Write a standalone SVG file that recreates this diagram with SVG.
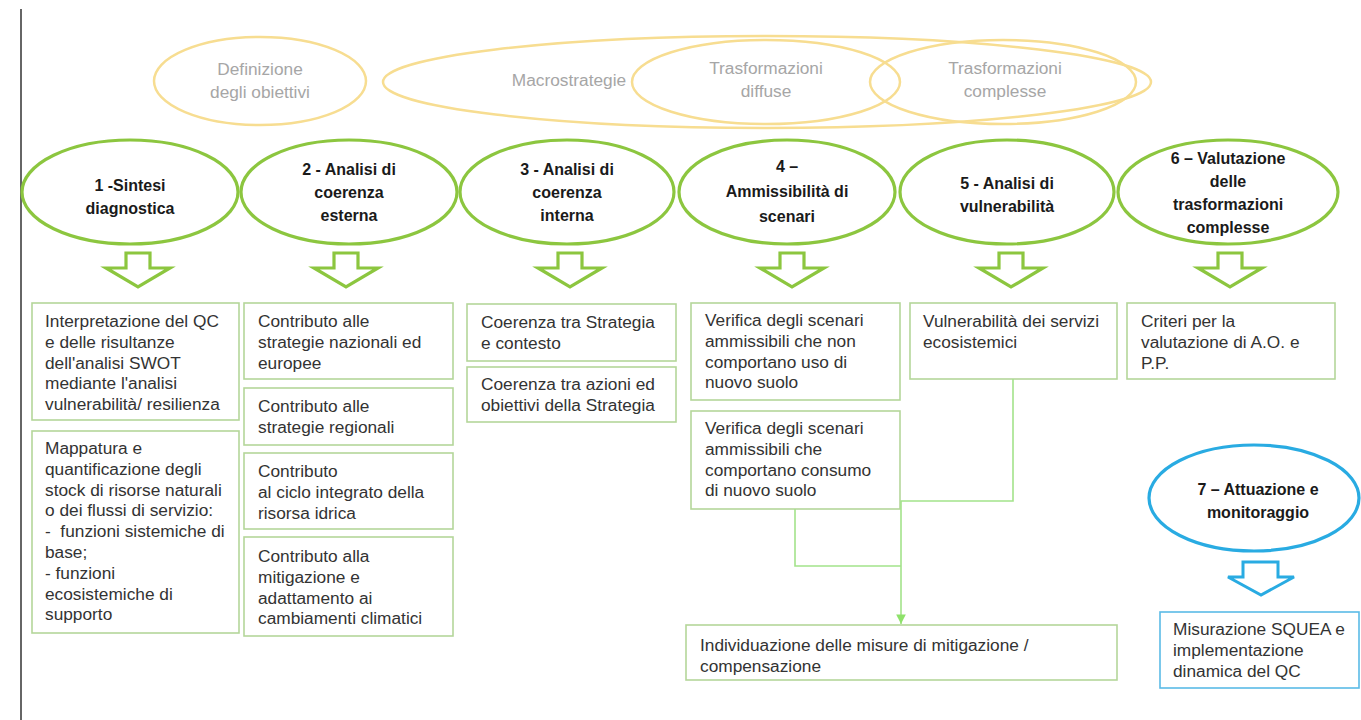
<svg xmlns="http://www.w3.org/2000/svg" xmlns:xlink="http://www.w3.org/1999/xlink" width="1361" height="720" viewBox="0 0 1361 720">
<style>
.bg{fill:#ffffff}
.yel{fill:none;stroke:#f7dd91;stroke-width:2.5}
.ytx{font-family:"Liberation Sans",Arial,sans-serif;font-size:17.3px;fill:#a6a6a6;text-anchor:middle}
.gel{fill:#ffffff;stroke:#8cc63f;stroke-width:3.2}
.etx{font-family:"Liberation Sans",Arial,sans-serif;font-size:16px;font-weight:bold;fill:#1a1a1a;text-anchor:middle}
.gar{fill:#ffffff;stroke:#8cc63f;stroke-width:3.2;stroke-linejoin:miter}
.bar{fill:#ffffff;stroke:#29abe2;stroke-width:3}
.box{fill:#ffffff;stroke:#b5d69a;stroke-width:1.6}
.bbox{fill:#ffffff;stroke:#5bbbe6;stroke-width:1.6}
.btx{font-family:"Liberation Sans",Arial,sans-serif;font-size:17.3px;fill:#333333}
.con{fill:none;stroke:#a3e38a;stroke-width:1.6}
.bel{fill:#ffffff;stroke:#29abe2;stroke-width:3.2}
</style>
<defs>
<path id="garrow" d="M-12 0 H12 V15 H32 L0 34 L-32 15 H-12 Z"/>
<marker id="ah" viewBox="0 0 10 10" refX="10" refY="5" markerWidth="6" markerHeight="6" orient="auto" markerUnits="strokeWidth">
<path d="M0 0 L10 5 L0 10 Z" fill="#8ee26a"/>
</marker>
</defs>
<rect class="bg" x="0" y="0" width="1361" height="720"/>
<line x1="21" y1="9" x2="21" y2="720" stroke="#666666" stroke-width="2"/>

<g id="top-ellipses">
<g id="definizione">
<ellipse class="yel" cx="260" cy="81" rx="106" ry="44"/>
<text class="ytx" x="260" y="75">Definizione</text>
<text class="ytx" x="260" y="98">degli obiettivi</text>
</g>
<g id="macrostrategie">
<ellipse class="yel" cx="767" cy="82" rx="384" ry="46"/>
<text class="ytx" x="569" y="86">Macrostrategie</text>
</g>
<g id="trasf-diffuse">
<ellipse class="yel" cx="766" cy="82" rx="134" ry="42"/>
<text class="ytx" x="766" y="74">Trasformazioni</text>
<text class="ytx" x="766" y="97">diffuse</text>
</g>
<g id="trasf-complesse">
<ellipse class="yel" cx="1003" cy="82" rx="133" ry="42"/>
<text class="ytx" x="1005" y="74">Trasformazioni</text>
<text class="ytx" x="1005" y="97">complesse</text>
</g>
</g>

<g id="phase1">
<ellipse class="gel" cx="130" cy="192" rx="108" ry="52"/>
<text class="etx" x="130" y="191">1 -Sintesi</text>
<text class="etx" x="130" y="214">diagnostica</text>
</g>
<g id="phase2">
<ellipse class="gel" cx="349" cy="192" rx="108" ry="52"/>
<text class="etx" x="349" y="175">2 - Analisi di</text>
<text class="etx" x="349" y="198">coerenza</text>
<text class="etx" x="349" y="221">esterna</text>
</g>
<g id="phase3">
<ellipse class="gel" cx="567" cy="192" rx="107" ry="52"/>
<text class="etx" x="567" y="175">3 - Analisi di</text>
<text class="etx" x="567" y="198">coerenza</text>
<text class="etx" x="567" y="221">interna</text>
</g>
<g id="phase4">
<ellipse class="gel" cx="787" cy="192" rx="108" ry="52"/>
<text class="etx" x="787" y="172">4 –</text>
<text class="etx" x="787" y="197">Ammissibilità di</text>
<text class="etx" x="787" y="222">scenari</text>
</g>
<g id="phase5">
<ellipse class="gel" cx="1007" cy="192" rx="107" ry="52"/>
<text class="etx" x="1007" y="189">5 - Analisi di</text>
<text class="etx" x="1007" y="212">vulnerabilità</text>
</g>
<g id="phase6">
<ellipse class="gel" cx="1228" cy="192" rx="110" ry="52"/>
<text class="etx" x="1228" y="164">6 – Valutazione</text>
<text class="etx" x="1228" y="187">delle</text>
<text class="etx" x="1228" y="210">trasformazioni</text>
<text class="etx" x="1228" y="233">complesse</text>
</g>

<g id="box-1a">
<rect class="box" x="32" y="303" width="207" height="117"/>
<text class="btx" x="45" y="327"><tspan x="45">Interpretazione del QC</tspan><tspan x="45" dy="20.8">e delle risultanze</tspan><tspan x="45" dy="20.8">dell'analisi SWOT</tspan><tspan x="45" dy="20.8">mediante l'analisi</tspan><tspan x="45" dy="20.8">vulnerabilità/ resilienza</tspan></text>
</g>
<g id="box-1b">
<rect class="box" x="32" y="431" width="207" height="202"/>
<text class="btx" x="45" y="454"><tspan x="45">Mappatura e</tspan><tspan x="45" dy="20.8">quantificazione degli</tspan><tspan x="45" dy="20.8">stock di risorse naturali</tspan><tspan x="45" dy="20.8">o dei flussi di servizio:</tspan><tspan x="45" dy="20.8">-&#160; funzioni sistemiche di</tspan><tspan x="45" dy="20.8">base;</tspan><tspan x="45" dy="20.8">- funzioni</tspan><tspan x="45" dy="20.8">ecosistemiche di</tspan><tspan x="45" dy="20.8">supporto</tspan></text>
</g>
<g id="box-2a">
<rect class="box" x="244" y="303" width="209" height="76"/>
<text class="btx" x="258" y="327"><tspan x="258">Contributo alle</tspan><tspan x="258" dy="20.8">strategie nazionali ed</tspan><tspan x="258" dy="20.8">europee</tspan></text>
</g>
<g id="box-2b">
<rect class="box" x="244" y="388" width="209" height="57"/>
<text class="btx" x="258" y="412"><tspan x="258">Contributo alle</tspan><tspan x="258" dy="20.8">strategie regionali</tspan></text>
</g>
<g id="box-2c">
<rect class="box" x="244" y="453" width="209" height="76"/>
<text class="btx" x="258" y="477"><tspan x="258">Contributo</tspan><tspan x="258" dy="20.8">al ciclo integrato della</tspan><tspan x="258" dy="20.8">risorsa idrica</tspan></text>
</g>
<g id="box-2d">
<rect class="box" x="244" y="537" width="209" height="99"/>
<text class="btx" x="258" y="562"><tspan x="258">Contributo alla</tspan><tspan x="258" dy="20.8">mitigazione e</tspan><tspan x="258" dy="20.8">adattamento ai</tspan><tspan x="258" dy="20.8">cambiamenti climatici</tspan></text>
</g>
<g id="box-3a">
<rect class="box" x="467" y="304" width="209" height="57"/>
<text class="btx" x="481" y="328"><tspan x="481">Coerenza tra Strategia</tspan><tspan x="481" dy="20.8">e contesto</tspan></text>
</g>
<g id="box-3b">
<rect class="box" x="467" y="367" width="209" height="55"/>
<text class="btx" x="481" y="390"><tspan x="481">Coerenza tra azioni ed</tspan><tspan x="481" dy="20.8">obiettivi della Strategia</tspan></text>
</g>
<g id="box-4a">
<rect class="box" x="691" y="303" width="209" height="97"/>
<text class="btx" x="705" y="326"><tspan x="705">Verifica degli scenari</tspan><tspan x="705" dy="20.8">ammissibili che non</tspan><tspan x="705" dy="20.8">comportano uso di</tspan><tspan x="705" dy="20.8">nuovo suolo</tspan></text>
</g>
<g id="box-4b">
<rect class="box" x="691" y="411" width="209" height="98"/>
<text class="btx" x="705" y="434"><tspan x="705">Verifica degli scenari</tspan><tspan x="705" dy="20.8">ammissibili che</tspan><tspan x="705" dy="20.8">comportano consumo</tspan><tspan x="705" dy="20.8">di nuovo suolo</tspan></text>
</g>
<g id="box-5">
<rect class="box" x="910" y="303" width="207" height="76"/>
<text class="btx" x="923" y="327"><tspan x="923">Vulnerabilità dei servizi</tspan><tspan x="923" dy="20.8">ecosistemici</tspan></text>
</g>
<g id="box-6">
<rect class="box" x="1127" y="303" width="208" height="76"/>
<text class="btx" x="1141" y="327"><tspan x="1141">Criteri per la</tspan><tspan x="1141" dy="20.8">valutazione di A.O. e</tspan><tspan x="1141" dy="20.8">P.P.</tspan></text>
</g>
<g id="box-mitigazione">
<rect class="box" x="686" y="625" width="431" height="55"/>
<text class="btx" x="700" y="651"><tspan x="700">Individuazione delle misure di mitigazione /</tspan><tspan x="700" dy="20.8">compensazione</tspan></text>
</g>

<g id="phase7">
<ellipse class="bel" cx="1254" cy="498" rx="105" ry="53"/>
<text class="etx" x="1258" y="495">7 – Attuazione e</text>
<text class="etx" x="1258" y="518">monitoraggio</text>
</g>
<g id="box-7">
<rect class="bbox" x="1160" y="612" width="199" height="76"/>
<text class="btx" x="1173" y="635"><tspan x="1173">Misurazione SQUEA e</tspan><tspan x="1173" dy="20.8">implementazione</tspan><tspan x="1173" dy="20.8">dinamica del QC</tspan></text>
</g>

<g id="connectors">
<use xlink:href="#garrow" class="gar" x="138" y="253"/>
<use xlink:href="#garrow" class="gar" x="346" y="253"/>
<use xlink:href="#garrow" class="gar" x="570" y="253"/>
<use xlink:href="#garrow" class="gar" x="792" y="253"/>
<use xlink:href="#garrow" class="gar" x="1011" y="253"/>
<use xlink:href="#garrow" class="gar" x="1230" y="253"/>
<path class="bar" d="M1243 562 H1278 V577 H1294 L1261 595 L1228 577 H1243 Z"/>
<path class="con" d="M795 509 V566 H901"/>
<path class="con" d="M1013 379 V501 H901 V624" marker-end="url(#ah)"/>
</g>
</svg>
